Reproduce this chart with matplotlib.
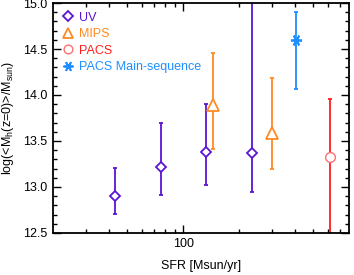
import matplotlib
matplotlib.use('Agg')
import matplotlib.pyplot as plt
from matplotlib.lines import Line2D
from matplotlib.ticker import MultipleLocator, FixedLocator, NullFormatter
import numpy as np

plt.rcParams['font.family'] = ['Liberation Sans', 'DejaVu Sans']
plt.rcParams['mathtext.fontset'] = 'custom'
plt.rcParams['mathtext.rm'] = 'Liberation Sans'
plt.rcParams['mathtext.it'] = 'Liberation Sans'

# data
uv_sfr = [43.1, 75.9, 132, 236]
uv_mh = [12.90, 13.22, 13.38, 13.37]
uv_lo = [12.71, 12.91, 13.02, 12.94]
uv_hi = [13.21, 13.69, 13.90, 15.6]

mips_sfr = [145.6, 300]
mips_mh = [13.89, 13.59]
mips_lo = [13.41, 13.19]
mips_hi = [14.46, 14.19]

pacs_sfr = [617]
pacs_mh = [13.33]
pacs_lo = [11.5]
pacs_hi = [13.96]

ms_sfr = [405]
ms_mh = [14.60]
ms_lo = [14.07]
ms_hi = [14.90]

# name, x, y, lo, hi, errorbar colour, marker colour, marker, size, edge width
series = [
    ('UV', uv_sfr, uv_mh, uv_lo, uv_hi, '#5a14d2', '#5a14d2', 'D', 5.5, 1.3),
    ('MIPS', mips_sfr, mips_mh, mips_lo, mips_hi, '#ff8a22', '#ff8a22', '^', 8, 1.3),
    ('PACS', pacs_sfr, pacs_mh, pacs_lo, pacs_hi, '#ff1e1e', '#ff7070', 'o', 7, 1.0),
    ('PACS Main-sequence', ms_sfr, ms_mh, ms_lo, ms_hi, '#1e8fff', '#1e8fff', (6, 2, 90), 8, 1.3),
]

fig = plt.figure(figsize=(3.54, 2.75), dpi=100)
ax = fig.add_axes([0.150, 0.153, 0.836, 0.836])

handles = []
for name, x, y, lo, hi, ecol, mcol, mk, ms, mew in series:
    y = np.array(y)
    yerr = [y - np.array(lo), np.array(hi) - y]
    ax.errorbar(x, y, yerr=yerr, fmt='none', ecolor=ecol, elinewidth=1.3,
                capsize=1.5, capthick=1.3, zorder=2)
    ax.plot(x, y, linestyle='none', marker=mk, markersize=ms,
            markerfacecolor='white' if mk != (6, 2, 90) else mcol,
            markeredgecolor=mcol, markeredgewidth=mew, zorder=3)
    handles.append(Line2D([], [], linestyle='none', marker=mk,
                          markersize=ms * 0.9,
                          markerfacecolor='none', markeredgecolor=mcol,
                          markeredgewidth=mew, label=name))

ax.set_xscale('log')
ax.set_xlim(20, 780)
ax.set_ylim(12.5, 15.0)

ax.xaxis.set_major_locator(FixedLocator([100]))
ax.xaxis.set_minor_locator(FixedLocator([30, 40, 50, 60, 70, 80, 90,
                                         200, 300, 400, 500, 600, 700]))
ax.xaxis.set_minor_formatter(NullFormatter())
ax.set_xticklabels(['100'])
ax.yaxis.set_major_locator(MultipleLocator(0.5))
ax.yaxis.set_minor_locator(MultipleLocator(0.1))
ax.yaxis.set_major_formatter(matplotlib.ticker.FormatStrFormatter('%.1f'))

ax.tick_params(which='both', direction='in', top=True, right=True,
               labelsize=9, width=1.0, pad=4)
ax.tick_params(which='major', length=6)
ax.tick_params(which='minor', length=3)
for s in ax.spines.values():
    s.set_linewidth(1.3)

ax.set_xlabel('SFR [Msun/yr]', fontsize=9, labelpad=7)
ax.set_ylabel(r'log(<M$_{\rm h}$(z=0)>/M$_{\rm sun}$)', fontsize=9, labelpad=5)

leg = ax.legend(handles=handles, loc='upper left', frameon=False, fontsize=9,
                handlelength=1.0, handletextpad=0.4, labelspacing=0.35,
                borderaxespad=0.3, borderpad=0.4)
for txt, s in zip(leg.get_texts(), series):
    txt.set_color(s[5])

fig.savefig('out.png', dpi=100)
